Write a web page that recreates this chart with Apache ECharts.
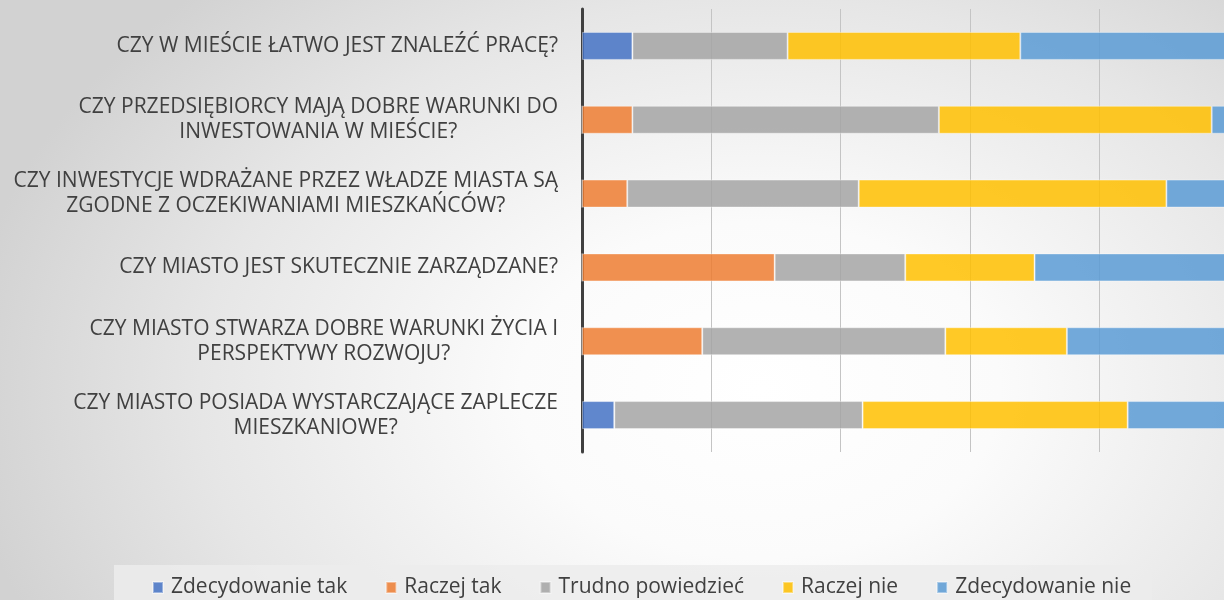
<!DOCTYPE html>
<html>
<head>
<meta charset="utf-8">
<script src="https://cdn.jsdelivr.net/npm/echarts@6/dist/echarts.min.js"></script>
<style>
  html, body { margin: 0; padding: 0; }
  body {
    width: 1224px; height: 600px; overflow: hidden;
    background: radial-gradient(ellipse 800px 560px at 760px 390px, #ffffff 0%, #fbfbfb 30%, #e6e6e6 70%, #d2d2d2 100%);
  }
  #main { width: 1224px; height: 600px; }
</style>
</head>
<body>
<div id="main"></div>
<script>
// pytania (od góry)
var questions = [
    'CZY W MIEŚCIE ŁATWO JEST ZNALEŹĆ PRACĘ?',
    'CZY PRZEDSIĘBIORCY MAJĄ DOBRE WARUNKI DO\nINWESTOWANIA W MIEŚCIE?',
    'CZY INWESTYCJE WDRAŻANE PRZEZ WŁADZE MIASTA SĄ\nZGODNE Z OCZEKIWANIAMI MIESZKAŃCÓW?',
    'CZY MIASTO JEST SKUTECZNIE ZARZĄDZANE?',
    'CZY MIASTO STWARZA DOBRE WARUNKI ŻYCIA I\nPERSPEKTYWY ROZWOJU?',
    'CZY MIASTO POSIADA WYSTARCZAJĄCE ZAPLECZE\nMIESZKANIOWE?'
];
var seriesNames = ['Zdecydowanie tak', 'Raczej tak', 'Trudno powiedzieć', 'Raczej nie', 'Zdecydowanie nie'];
// odpowiedzi w %
var zdecydowanieTak = [3.9, 0, 0, 0, 0, 2.5];
var raczejTak = [0, 3.9, 3.5, 14.9, 9.3, 0];
var trudnoPowiedziec = [12.0, 23.7, 17.9, 10.1, 18.8, 19.2];
var raczejNie = [18.0, 21.1, 23.8, 10.0, 9.4, 20.5];
var zdecydowanieNie = [66.1, 51.3, 54.8, 65.0, 62.5, 57.8];
var colors = ['#4472C4', '#ED7D31', '#A5A5A5', '#FFC000', '#5B9BD5'];

var allData = [zdecydowanieTak, raczejTak, trudnoPowiedziec, raczejNie, zdecydowanieNie];

var dom = document.getElementById('main');
var myChart = echarts.init(dom, null, { renderer: 'canvas' });

var series = [];
for (var i = 0; i < seriesNames.length; i++) {
    series.push({
        name: seriesNames[i],
        type: 'bar',
        stack: 'total',
        barWidth: 28,
        data: allData[i],
        itemStyle: {
            color: colors[i],
            opacity: 0.85,
            borderColor: 'rgba(255,255,255,0.45)',
            borderWidth: 1
        }
    });
}

var font = '"Open Sans", "Noto Sans", sans-serif';

var option = {
    backgroundColor: 'transparent',
    animation: false,
    graphic: [{
        type: 'rect',
        z: -1,
        shape: { x: 114, y: 565, width: 1038, height: 40 },
        style: { fill: 'rgba(236,236,236,0.85)' }
    }],
    legend: {
        data: seriesNames,
        left: 152,
        top: 577,
        padding: 0,
        itemWidth: 10,
        itemHeight: 11,
        itemGap: 38,
        icon: 'rect',
        textStyle: { fontFamily: font, fontSize: 21, color: '#404040', padding: [0, 0, 0, 3] }
    },
    grid: {
        left: 582,
        top: 9,
        width: 1293,
        height: 443,
        outerBoundsMode: 'none'
    },
    xAxis: {
        type: 'value',
        min: 0,
        max: 100,
        interval: 10,
        axisLabel: { show: false },
        axisLine: { show: false },
        axisTick: { show: false },
        splitLine: { lineStyle: { color: '#c4c4c4', width: 1 } }
    },
    yAxis: {
        type: 'category',
        inverse: true,
        data: questions,
        axisTick: { show: false },
        axisLine: { lineStyle: { color: '#404040', width: 3 } },
        axisLabel: {
            margin: 24,
            formatter: function (value) {
                return value.split('\n').map(function (s) { return '{c|' + s + '}'; }).join('\n');
            },
            rich: {
                c: {
                    align: 'center',
                    fontFamily: font,
                    fontSize: 21,
                    lineHeight: 25,
                    color: '#404040'
                }
            }
        }
    },
    series: series
};

if (option && typeof option === 'object') {
    myChart.setOption(option, true);
}
</script>
</body>
</html>
